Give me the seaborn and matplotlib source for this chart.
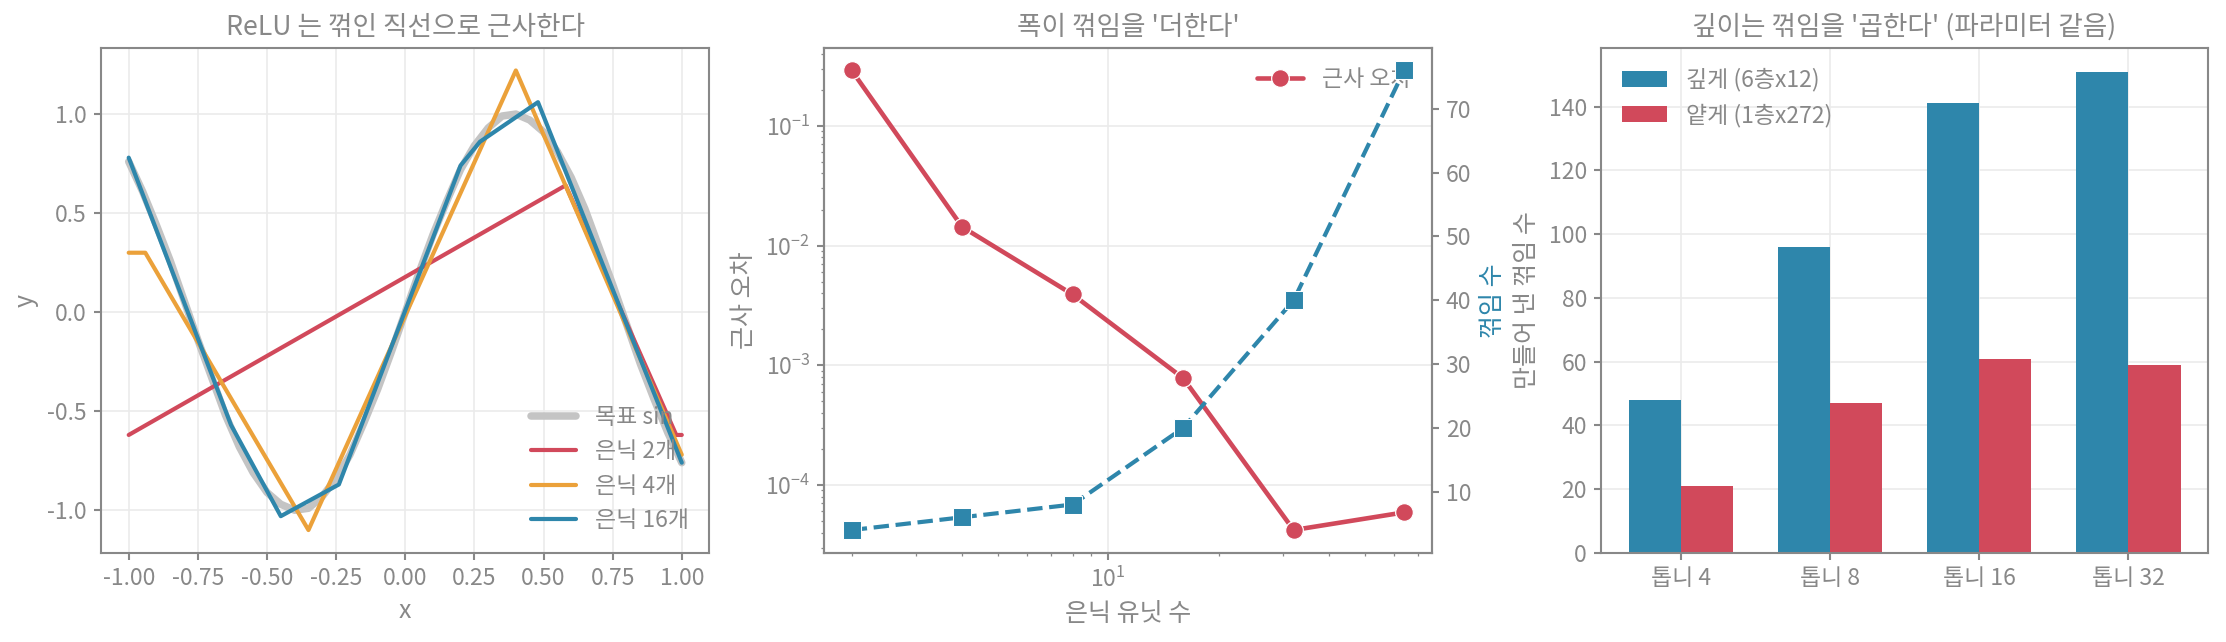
import numpy as np
import pandas as pd
import matplotlib
matplotlib.use("Agg")
import matplotlib.pyplot as plt
import seaborn as sns

# ---- 그림에서 읽은 값 ----
# 왼쪽: 목표 sin 곡선과 ReLU 근사 (꺾인 점들)
x_grid = [-1.00, -0.95, -0.90, -0.85, -0.80, -0.75, -0.70, -0.65, -0.60, -0.55,
          -0.50, -0.45, -0.40, -0.35, -0.30, -0.25, -0.20, -0.15, -0.10, -0.05,
          0.00, 0.05, 0.10, 0.15, 0.20, 0.25, 0.30, 0.35, 0.40, 0.45,
          0.50, 0.55, 0.60, 0.65, 0.70, 0.75, 0.80, 0.85, 0.90, 0.95, 1.00]
target_sin = [0.76, 0.61, 0.44, 0.26, 0.06, -0.14, -0.33, -0.52, -0.68, -0.81,
              -0.91, -0.97, -1.00, -0.99, -0.93, -0.84, -0.72, -0.56, -0.39, -0.20,
              0.00, 0.20, 0.39, 0.56, 0.72, 0.84, 0.93, 0.99, 1.00, 0.97,
              0.91, 0.81, 0.68, 0.52, 0.33, 0.14, -0.06, -0.26, -0.44, -0.61, -0.76]

relu2_x = [-1.00, 0.58, 0.98, 1.00]
relu2_y = [-0.62, 0.64, -0.62, -0.62]
relu4_x = [-1.00, -0.94, -0.35, 0.40, 1.00]
relu4_y = [0.30, 0.30, -1.10, 1.22, -0.72]
relu16_x = [-1.00, -0.63, -0.45, -0.24, 0.20, 0.27, 0.48, 1.00]
relu16_y = [0.78, -0.57, -1.03, -0.87, 0.74, 0.86, 1.06, -0.76]

# 가운데: 폭
hidden_units = [2, 4, 8, 16, 32, 64]
approx_error = [0.29, 0.0143, 0.0039, 0.00078, 0.000042, 0.000059]
kink_count = [4, 6, 8, 20, 40, 76]

# 오른쪽: 깊이
tooth_labels = ['톱니 4', '톱니 8', '톱니 16', '톱니 32']
deep_kinks = [48, 96, 141, 151]
shallow_kinks = [21, 47, 61, 59]

BLUE = '#2E86AB'
RED = '#D1495B'
ORANGE = '#EBA13A'
GRAY = '#c4c4c4'
TXT = '#888888'

sns.set_theme(style='ticks')
plt.rcParams.update({
    'font.size': 11,
    'axes.titlesize': 12.8,
    'axes.labelsize': 12,
    'xtick.labelsize': 11,
    'ytick.labelsize': 11,
    'legend.fontsize': 11,
    'text.color': TXT,
    'axes.labelcolor': TXT,
    'axes.titlecolor': TXT,
    'axes.edgecolor': TXT,
    'axes.linewidth': 1.0,
    'xtick.color': TXT,
    'ytick.color': TXT,
    'xtick.major.size': 3.2,
    'ytick.major.size': 3.2,
    'xtick.minor.size': 1.6,
    'ytick.minor.size': 1.6,
    'xtick.major.width': 1.0,
    'ytick.major.width': 1.0,
    'xtick.minor.width': 0.6,
    'ytick.minor.width': 0.6,
    'axes.grid': True,
    'grid.color': '#ebebeb',
    'grid.linewidth': 0.8,
    'axes.unicode_minus': False,
})
plt.rcParams['font.family'] = ['Noto Sans CJK KR', 'DejaVu Sans']

fig = plt.figure(figsize=(2226 / 150, 642 / 150), dpi=150)
ax1 = fig.add_axes([0.0454, 0.1386, 0.2733, 0.7874])
ax2 = fig.add_axes([0.3702, 0.1386, 0.2730, 0.7874])
ax3 = fig.add_axes([0.7192, 0.1386, 0.2728, 0.7874])

# ---- 1) ReLU 근사 ----
sns.lineplot(x=x_grid, y=target_sin, ax=ax1, color=GRAY, lw=3.6,
             sort=False, estimator=None, label='목표 sin')
sns.lineplot(x=relu2_x, y=relu2_y, ax=ax1, color=RED, lw=2.0,
             sort=False, estimator=None, label='은닉 2개')
sns.lineplot(x=relu4_x, y=relu4_y, ax=ax1, color=ORANGE, lw=2.0,
             sort=False, estimator=None, label='은닉 4개')
sns.lineplot(x=relu16_x, y=relu16_y, ax=ax1, color=BLUE, lw=2.0,
             sort=False, estimator=None, label='은닉 16개')
ax1.set_xticks([-1.0, -0.75, -0.5, -0.25, 0.0, 0.25, 0.5, 0.75, 1.0])
ax1.set_yticks([-1.0, -0.5, 0.0, 0.5, 1.0])
ax1.set_xlabel('x')
ax1.set_ylabel('y')
ax1.set_title('ReLU 는 꺾인 직선으로 근사한다')
ax1.legend(loc='lower right', frameon=False)

# ---- 2) 폭 ----
ax2.set_xscale('log')
ax2.set_yscale('log')
sns.lineplot(x=hidden_units, y=approx_error, ax=ax2, color=RED, lw=2.2,
             marker='o', markersize=8.5, markeredgecolor='white',
             markeredgewidth=0.6, label='근사 오차')
ax2.set_xlabel('은닉 유닛 수')
ax2.set_ylabel('근사 오차')
ax2.set_title("폭이 꺾임을 '더한다'")
ax2.legend(loc='upper right', frameon=False)

ax2t = ax2.twinx()
sns.lineplot(x=hidden_units, y=kink_count, ax=ax2t, color=BLUE, lw=2.0,
             linestyle='--', marker='s', markersize=9,
             markeredgecolor='white', markeredgewidth=0.5, legend=False)
ax2t.grid(False)
ax2t.set_ylabel('꺾임 수', color=BLUE)

# ---- 3) 깊이 ----
df_bar = pd.DataFrame({
    '톱니': tooth_labels * 2,
    '꺾임': deep_kinks + shallow_kinks,
    '구성': ['깊게 (6층x12)'] * 4 + ['얕게 (1층x272)'] * 4,
})
sns.barplot(data=df_bar, x='톱니', y='꺾임', hue='구성', ax=ax3,
            palette=[BLUE, RED], width=0.7, saturation=1, linewidth=0)
ax3.set_xlim(-0.535, 3.535)
ax3.grid(True)
ax3.set_xlabel('')
ax3.set_ylabel('만들어 낸 꺾임 수')
ax3.set_title("깊이는 꺾임을 '곱한다' (파라미터 같음)")
sns.move_legend(ax3, 'upper left', title=None, frameon=False)

fig.savefig('out.png', dpi=150)
